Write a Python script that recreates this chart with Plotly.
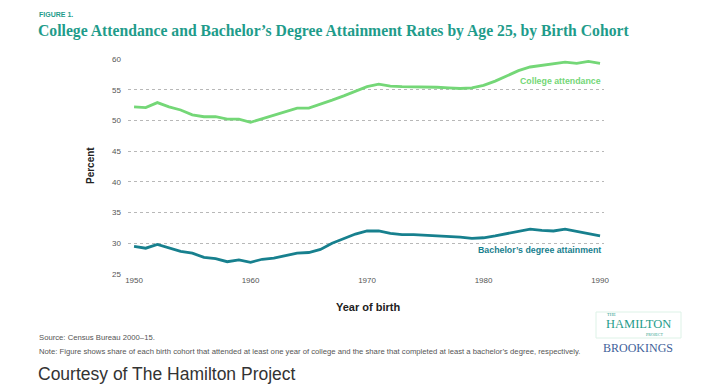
import plotly.graph_objects as go

years = list(range(1950, 1991))
college_attendance = [52.2, 52.1, 52.9, 52.2, 51.7, 50.9, 50.6, 50.6, 50.2, 50.2,
                      49.7, 50.3, 50.9, 51.4, 52.0, 52.0, 52.6, 53.3, 54.0, 54.8,
                      55.5, 55.9, 55.6, 55.5, 55.5, 55.5, 55.4, 55.3, 55.2, 55.3,
                      55.7, 56.4, 57.2, 58.1, 58.7, 59.0, 59.3, 59.5, 59.3, 59.6, 59.3]
bachelors_attainment = [29.5, 29.2, 29.8, 29.3, 28.7, 28.4, 27.7, 27.5, 27.0, 27.3,
                        26.9, 27.4, 27.6, 28.0, 28.4, 28.5, 29.0, 30.0, 30.8, 31.5,
                        32.0, 32.0, 31.6, 31.4, 31.4, 31.3, 31.3, 31.2, 31.0, 30.8,
                        30.9, 31.2, 31.6, 32.0, 32.3, 32.1, 32.0, 32.3, 31.9, 31.5, 31.2]
y_ticks = [25, 30, 35, 40, 45, 50, 55, 60]
x_ticks = [1950, 1960, 1970, 1980, 1990]

W, H = 724, 389
L, R, T, B = 128, 120, 59, 115
PW, PH = W - L - R, H - T - B

def px(x):
    return (x - L) / PW

def py(y):
    return 1 - (y - T) / PH

GREEN = "#74d777"
TEAL = "#17808e"
TITLE = "#1f9c8b"

fig = go.Figure()
fig.add_trace(go.Scatter(x=years, y=college_attendance, mode="lines",
                         line=dict(color=GREEN, width=2.8), hoverinfo="skip"))
fig.add_trace(go.Scatter(x=years, y=bachelors_attainment, mode="lines",
                         line=dict(color=TEAL, width=2.8), hoverinfo="skip"))

ann = []
def text(x, y, s, size, color, xanchor="left", family="Liberation Sans", textangle=0):
    ann.append(dict(x=px(x), y=py(y), xref="paper", yref="paper", text=s,
                    showarrow=False, xanchor=xanchor, yanchor="middle",
                    font=dict(size=size, color=color, family=family),
                    textangle=textangle))

text(37, 14, "<b>FIGURE 1.</b>", 7, TITLE)
text(36, 31, "<b>College Attendance and Bachelor’s Degree Attainment Rates by Age 25, by Birth Cohort</b>",
     15.7, TITLE, family="Liberation Serif")
text(603, 81, "<b>College attendance</b>", 8.8, GREEN, xanchor="right")
text(603, 250, "<b>Bachelor’s degree attainment</b>", 8.8, TEAL, xanchor="right")
text(90, 166, "<b>Percent</b>", 10, "#222", xanchor="center", textangle=-90)
text(368, 307, "<b>Year of birth</b>", 11, "#222", xanchor="center")
text(37, 337, "Source: Census Bureau 2000–15.", 7.7, "#555")
text(37, 351, "Note: Figure shows share of each birth cohort that attended at least one year of college and the share that completed at least a bachelor’s degree, respectively.",
     7.7, "#555")
text(36, 374, "Courtesy of The Hamilton Project", 17.5, "#333")
# logo
text(611, 314, "THE", 4.5, TITLE, xanchor="center", family="Liberation Serif")
text(638, 324, "HAMILTON", 12.5, TITLE, xanchor="center", family="Liberation Serif")
text(654, 334, "PROJECT", 4, TITLE, xanchor="center", family="Liberation Serif")
text(638, 348, "BROOKINGS", 12, "#3f5f9a", xanchor="center", family="Liberation Serif")

fig.update_layout(
    width=W, height=H,
    margin=dict(l=L, r=R, t=T, b=B),
    paper_bgcolor="white", plot_bgcolor="white",
    showlegend=False,
    annotations=ann,
    shapes=[dict(type="rect", xref="paper", yref="paper",
                 x0=px(596), x1=px(681), y0=py(338), y1=py(312),
                 line=dict(color="#ddf2e7", width=1), fillcolor="rgba(0,0,0,0)")],
)
fig.update_xaxes(range=[1949.48, 1990.34], tickvals=x_ticks, showgrid=False,
                 zeroline=False, showline=False, ticks="",
                 tickfont=dict(size=8, color="#555", family="Liberation Sans"))
fig.update_yaxes(range=[25, 60], tickvals=y_ticks, showgrid=True,
                 gridcolor="#b8b8b8", griddash="dot", gridwidth=1,
                 zeroline=False, showline=False, ticks="", ticklabelstandoff=6,
                 tickfont=dict(size=8, color="#555", family="Liberation Sans"))

fig.write_html("out.html", config={"displayModeBar": False},
               post_script="document.body.style.margin='0';")
